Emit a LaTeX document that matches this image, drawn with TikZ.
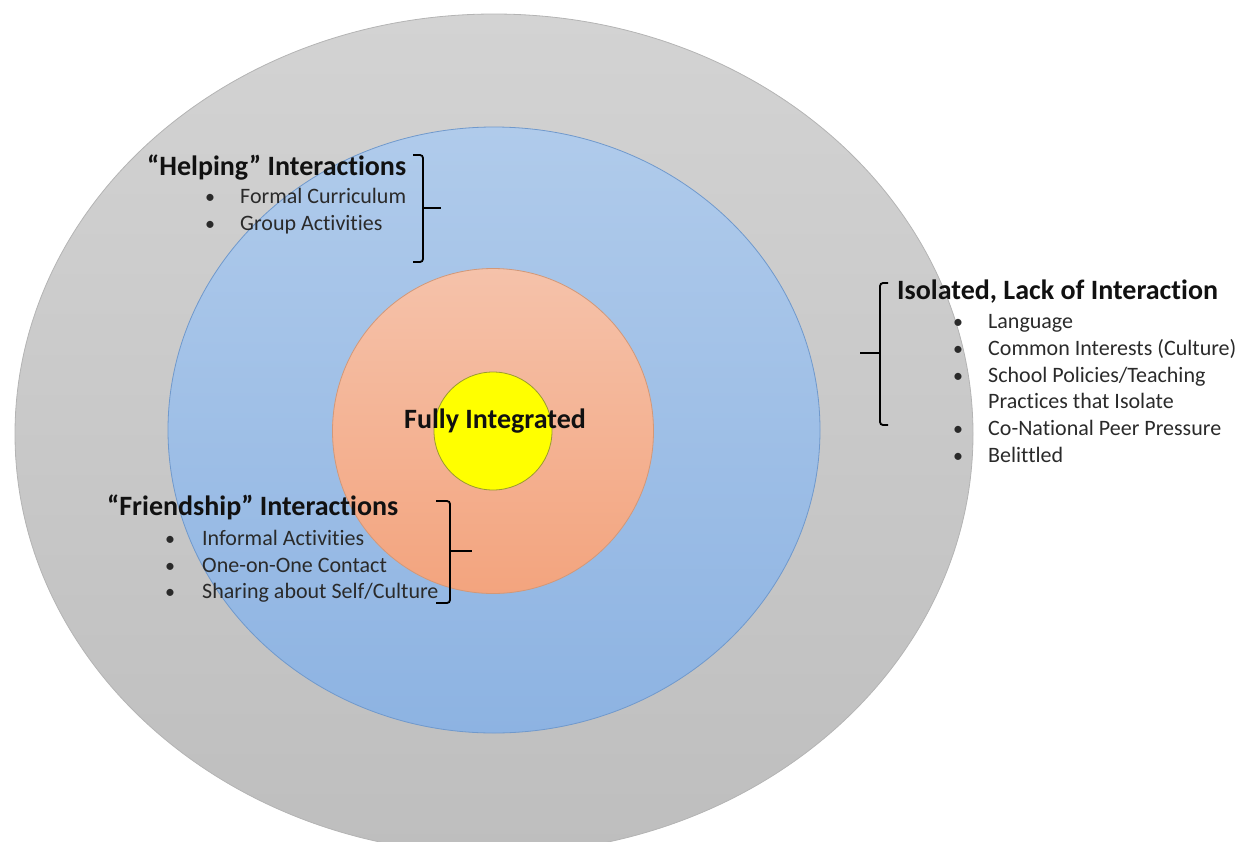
\documentclass[tikz,border=0pt]{standalone}
\usepackage{fontspec}
\setmainfont[Ligatures=NoCommon]{Carlito}
\usetikzlibrary{shapes.geometric}
\definecolor{grayTop}{HTML}{D3D3D3}
\definecolor{grayBot}{HTML}{BEBEBE}
\definecolor{grayLine}{HTML}{B4B4B4}
\definecolor{blueTop}{HTML}{B0CBEB}
\definecolor{blueBot}{HTML}{8DB3E2}
\definecolor{blueLine}{HTML}{7099CC}
\definecolor{orTop}{HTML}{F5C2AA}
\definecolor{orBot}{HTML}{F3A47E}
\definecolor{orLine}{HTML}{D29878}
\definecolor{yelFill}{HTML}{FFFF00}
\definecolor{yelLine}{HTML}{9A9A30}
\definecolor{headText}{HTML}{111111}
\definecolor{itemText}{HTML}{2A2A2A}
\tikzset{
  ring/.style={ellipse, inner sep=0pt, line width=0.8pt},
  heading/.style={anchor=base west, inner sep=0pt, text=headText, font=\fontsize{28}{32}\selectfont\bfseries},
  itemtext/.style={anchor=base west, inner sep=0pt, text=itemText, font=\fontsize{22}{27}\selectfont},
  bulletmark/.style={anchor=base, inner sep=0pt, text=itemText, font=\fontsize{20}{27}\selectfont},
  bracket/.style={draw=black, line width=1.8pt, rounded corners=3pt}
}
\begin{document}
\begin{tikzpicture}[x=1pt, y=-1pt]
\useasboundingbox (0,0) rectangle (1242,841);
% rings
\node[ring, minimum width=958pt, minimum height=840pt, top color=grayTop, bottom color=grayBot, draw=grayLine] (outer) at (494,434) {};
\node[ring, minimum width=652pt, minimum height=606pt, top color=blueTop, bottom color=blueBot, draw=blueLine] (blue) at (494,430) {};
\node[ring, minimum width=321pt, minimum height=325pt, top color=orTop, bottom color=orBot, draw=orLine] (orange) at (493,431) {};
\node[ring, minimum width=118pt, minimum height=118pt, fill=yelFill, draw=yelLine] (core) at (493,431) {};
\node[anchor=base, inner sep=0pt, text=headText, font=\fontsize{28}{32}\selectfont\bfseries] (fully) at (495,428) {Fully Integrated};

% Helping
\node[heading] (helpH) at (147,175) {“Helping” Interactions};
\node[bulletmark] (hb1) at (210,203) {•};
\node[itemtext] (h1) at (240,203) {Formal Curriculum};
\node[bulletmark] (hb2) at (210,230) {•};
\node[itemtext] (h2) at (240,230) {Group Activities};
\coordinate (hTopL) at (413,155);
\coordinate (hTop) at (423,155);
\coordinate (hBot) at (423,262);
\coordinate (hBotL) at (413,262);
\coordinate (hMid) at (423,208);
\coordinate (hTip) at (441,208);
\draw[bracket] (hTopL) -- (hTop) -- (hBot) -- (hBotL);
\draw[bracket] (hMid) -- (hTip);

% Isolated
\node[heading] (isoH) at (897,299) {Isolated, Lack of Interaction};
\node[bulletmark] (ib1) at (958,328) {•};
\node[itemtext] (i1) at (988,328) {Language};
\node[bulletmark] (ib2) at (958,355) {•};
\node[itemtext] (i2) at (988,355) {Common Interests (Culture)};
\node[bulletmark] (ib3) at (958,382) {•};
\node[itemtext] (i3) at (988,382) {School Policies/Teaching};
\node[itemtext] (i3b) at (988,408) {Practices that Isolate};
\node[bulletmark] (ib4) at (958,435) {•};
\node[itemtext] (i4) at (988,435) {Co-National Peer Pressure};
\node[bulletmark] (ib5) at (958,462) {•};
\node[itemtext] (i5) at (988,462) {Belittled};
\coordinate (iTopR) at (888,283);
\coordinate (iTop) at (880,283);
\coordinate (iBot) at (880,425);
\coordinate (iBotR) at (888,425);
\coordinate (iMid) at (880,353);
\coordinate (iTip) at (860,353);
\draw[bracket] (iTopR) -- (iTop) -- (iBot) -- (iBotR);
\draw[bracket] (iMid) -- (iTip);

% Friendship
\node[heading] (frH) at (107,515) {“Friendship” Interactions};
\node[bulletmark] (fb1) at (170,545) {•};
\node[itemtext] (f1) at (202,545) {Informal Activities};
\node[bulletmark] (fb2) at (170,572) {•};
\node[itemtext] (f2) at (202,572) {One-on-One Contact};
\node[bulletmark] (fb3) at (170,598) {•};
\node[itemtext] (f3) at (202,598) {Sharing about Self/Culture};
\coordinate (fTopL) at (436,501);
\coordinate (fTop) at (450,501);
\coordinate (fBot) at (450,603);
\coordinate (fBotL) at (436,603);
\coordinate (fMid) at (450,551);
\coordinate (fTip) at (472,551);
\draw[bracket] (fTopL) -- (fTop) -- (fBot) -- (fBotL);
\draw[bracket] (fMid) -- (fTip);
\end{tikzpicture}
\end{document}
